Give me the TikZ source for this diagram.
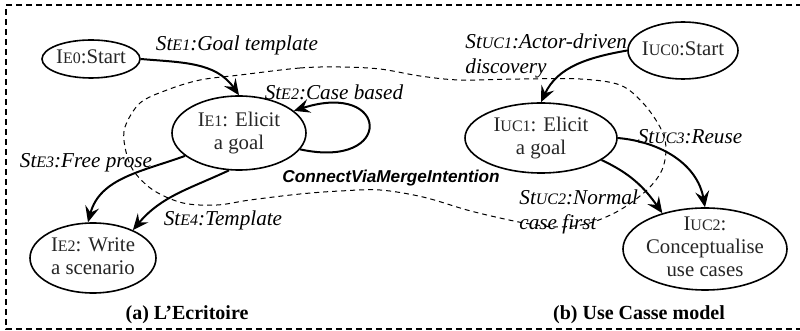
\documentclass[tikz,border=0pt]{standalone}
\usepackage{fontspec}
\setmainfont{Liberation Serif}
\newfontfamily\lsans{Liberation Sans}
\usetikzlibrary{arrows.meta,shapes.geometric}
\newcommand{\smc}[1]{{\fontsize{8}{8}\selectfont #1}}
\newcommand{\ntext}[1]{\makebox[0pt]{\smash{\raisebox{-2.6pt}{\begin{tabular}[c]{@{}c@{}}#1\end{tabular}}}}}
\begin{document}
\begin{tikzpicture}[x=0.5pt,y=-0.5pt,
  font=\fontsize{10.4}{11.5}\selectfont,
  st/.style={ellipse, draw, line width=0.8pt, inner sep=0pt, text=black!85},
  lab/.style={font=\fontsize{10.6}{12.5}\selectfont\itshape, inner sep=0pt},
  conn/.style={line width=1pt, -{Stealth[length=8pt,width=7pt,inset=3pt]}},
  frame/.style={line width=0.8pt, dash pattern=on 3pt off 2pt},
  blob/.style={line width=0.5pt, dash pattern=on 2.5pt off 2pt}]
\useasboundingbox (0,0) rectangle (800,331);
% outer frame (right side outside the picture)
\coordinate (f1) at (802,5);
\coordinate (f2) at (6,5);
\coordinate (f3) at (6,329);
\coordinate (f4) at (802,329);
\draw[frame] (f1) -- (f2) -- (f3) -- (f4);
% merge region
\draw[blob] plot[smooth cycle, tension=0.55] coordinates {
 (240,75) (300,68) (340,67) (380,69) (420,76) (460,80) (520,79) (580,79)
 (620,85) (643,103) (660,127) (666,147) (662,170) (647,190) (620,210)
 (590,223) (560,227) (530,224) (500,218) (467,210) (423,197) (380,190)
 (340,191) (300,194) (250,200) (217,205) (183,203) (153,190) (133,170)
 (125,147) (125,127) (140,103) (167,90) (200,80)};
% states
\node[st, minimum width=49pt, minimum height=19pt] (e0) at (91,59) {\ntext{I\smc{E0}:Start}};
\node[st, minimum width=67pt, minimum height=37pt] (e1) at (239,133) {\ntext{I\smc{E1}: Elicit\\a goal}};
\node[st, minimum width=63pt, minimum height=35pt] (e2) at (93,258) {\ntext{I\smc{E2}: Write\\a scenario}};
\node[st, minimum width=55pt, minimum height=28.5pt] (u0) at (683,50.5) {\ntext{I\smc{UC0}:Start}};
\node[st, minimum width=76pt, minimum height=35pt] (u1) at (541,138) {\ntext{I\smc{UC1}: Elicit\\a goal}};
\node[st, minimum width=82pt, minimum height=41pt] (u2) at (705,249) {\ntext{I\smc{UC2}:\\Conceptualise\\use cases}};
% connectors
\draw[conn] (e0.east) to[out=-5,in=125] (e1.north);
\draw[conn] (e1.-15) .. controls (395,170) and (390,80) .. (e1.22);
\draw[conn] (e1.203) to[out=200,in=75] (e2.98);
\draw[conn] (e1.255) to[out=205,in=50] (e2.35);
\draw[conn] (u0.west) to[out=190,in=65] (u1.north);
\draw[conn] (u1.east) to[out=-5,in=100] (u2.north);
\draw[conn] (u1.-20) to[out=-25,in=125] (u2.140);
% labels
\node[lab] (l1) at (237,45) {St\smc{E1}:Goal template};
\node[lab] (l2) at (334,92) {St\smc{E2}:Case based};
\node[lab] (l3) at (86,163) {St\smc{E3}:Free prose};
\node[lab] (l4) at (223,220) {St\smc{E4}:Template};
\node[lab, anchor=west, align=left] (l5) at (465,55.5) {St\smc{UC1}:Actor-driven\\discovery};
\node[lab, anchor=west, align=left] (l6) at (519,212) {St\smc{UC2}:Normal\\case first};
\node[lab] (l7) at (690,137) {St\smc{UC3}:Reuse};
\node[font=\lsans\fontsize{8.6}{10}\bfseries\itshape\selectfont, inner sep=0pt] (cv) at (391,178) {ConnectViaMergeIntention};
\node[font=\bfseries, inner sep=0pt] (ca) at (187,315) {(a) L’Ecritoire};
\node[font=\bfseries, inner sep=0pt] (cb) at (639,315) {(b) Use Casse model};
\end{tikzpicture}
\end{document}
